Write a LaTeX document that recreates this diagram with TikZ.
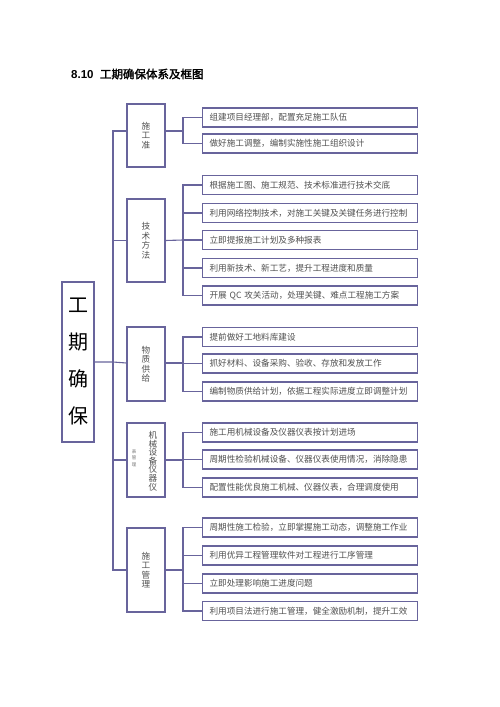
\documentclass[tikz,border=0pt]{standalone}
\usepackage{fontspec}
\newfontfamily\cjk{Noto Sans CJK SC}[AutoFakeBold=2]
\newfontfamily\lat{Liberation Sans}
\definecolor{lineC}{RGB}{104,100,156}
\definecolor{txtC}{RGB}{80,80,80}
\begin{document}
\begin{tikzpicture}[x=1pt,y=-1pt,
  conn/.style={draw=lineC,line width=1.1pt},
  leaf/.style={draw=lineC,line width=1.2pt,anchor=west,minimum width=215pt,minimum height=19pt,
    inner sep=0pt,text=txtC,font=\cjk\fontsize{8.6}{9}\selectfont,align=left,text width=201pt},
  mid/.style={draw=lineC,line width=1.2pt,minimum width=38pt,inner sep=0pt,text=txtC,
    font=\cjk\fontsize{8.6}{9.5}\selectfont,align=center},
  big/.style={draw=lineC,line width=1.2pt,minimum width=32pt,minimum height=160pt,inner sep=0pt,
    font=\cjk\fontsize{20}{37}\selectfont,align=center}
]
\useasboundingbox[fill=white] (0,0) rectangle (500,707);
% title
\node[anchor=west,inner sep=0pt] (title) at (71,74) {\lat\bfseries\fontsize{11.5}{12}\selectfont 8.10\ \ \cjk\bfseries 工期确保体系及框图};
% big box
\node[big] (big) at (78,362) {工\\期\\确\\保};
% middle boxes
\node[mid,minimum height=63pt] (g1) at (146,135.5) {\fontsize{8.6}{18.5}\selectfont 施\\工\\准};
\node[mid,minimum height=83pt] (g2) at (146,240.5) {技\\术\\方\\法};
\node[mid,minimum height=74pt] (g3) at (146,364) {物\\质\\供\\给};
\node[mid,minimum height=74pt] (g4) at (146,460) {};
\node[text=txtC,font=\cjk\fontsize{8.6}{8.6}\selectfont,align=center,inner sep=0pt] (g4t) at (153,461) {机\\械\\设\\备\\仪\\器\\仪};
\node[text=txtC!80,font=\cjk\fontsize{4.5}{6.5}\selectfont,align=center,inner sep=0pt] (g4s) at (134,458) {表\\管\\理};
\node[mid,minimum height=84pt] (g5) at (146,570) {施\\工\\管\\理};
% leaves group 1
\node[leaf] (l11) at (202,117.5) {组建项目经理部，配置充足施工队伍};
\node[leaf] (l12) at (202,143.5) {做好施工调整，编制实施性施工组织设计};
% group 2
\node[leaf] (l21) at (202,185) {根据施工图、施工规范、技术标准进行技术交底};
\node[leaf] (l22) at (202,213) {利用网络控制技术，对施工关键及关键任务进行控制};
\node[leaf] (l23) at (202,240) {立即提报施工计划及多种报表};
\node[leaf] (l24) at (202,268) {利用新技术、新工艺，提升工程进度和质量};
\node[leaf] (l25) at (202,295.5) {开展 QC 攻关活动，处理关键、难点工程施工方案};
% group 3
\node[leaf] (l31) at (202,337) {提前做好工地料库建设};
\node[leaf] (l32) at (202,363.5) {抓好材料、设备采购、验收、存放和发放工作};
\node[leaf] (l33) at (202,391.5) {编制物质供给计划，依据工程实际进度立即调整计划};
% group 4
\node[leaf] (l41) at (202,432.5) {施工用机械设备及仪器仪表按计划进场};
\node[leaf] (l42) at (202,459.5) {周期性检验机械设备、仪器仪表使用情况，消除隐患};
\node[leaf] (l43) at (202,487.5) {配置性能优良施工机械、仪器仪表，合理调度使用};
% group 5
\node[leaf] (l51) at (202,527.5) {周期性施工检验，立即掌握施工动态，调整施工作业};
\node[leaf] (l52) at (202,555.5) {利用优异工程管理软件对工程进行工序管理};
\node[leaf] (l53) at (202,583.5) {立即处理影响施工进度问题};
\node[leaf] (l54) at (202,611) {利用项目法进行施工管理，健全激励机制，提升工效};
% junction coordinates
\coordinate (t1) at (113,131);
\coordinate (t5) at (113,570);
\coordinate (b1) at (183,131);
\coordinate (b2) at (183,240);
\coordinate (b3) at (183,363);
\coordinate (b4) at (183,460);
\coordinate (b5) at (183,570);
% trunk
\draw[conn] ([yshift=4.5pt]g1.west) -- (t1) -- (t5) -- (g5.west);
\draw[conn] (big.east) -- (big.east -| t1) -- ([yshift=1pt]g3.west);
\draw[conn] (g2.west -| t1) -- (g2.west);
\draw[conn] (g4.west -| t1) -- (g4.west);
% branches
\draw[conn] ([yshift=4.5pt]g1.east) -- (b1);
\draw[conn] (b1) |- (l11.west); \draw[conn] (b1) |- (l12.west);
\draw[conn] (g2.east) -- (b2);
\foreach \l in {l21,l22,l23,l24,l25} \draw[conn] (b2) |- (\l.west);
\draw[conn] ([yshift=1pt]g3.east) -- (b3);
\foreach \l in {l31,l32,l33} \draw[conn] (b3) |- (\l.west);
\draw[conn] (g4.east) -- (b4);
\foreach \l in {l41,l42,l43} \draw[conn] (b4) |- (\l.west);
\draw[conn] (g5.east) -- (b5);
\foreach \l in {l51,l52,l53,l54} \draw[conn] (b5) |- (\l.west);
\end{tikzpicture}
\end{document}
